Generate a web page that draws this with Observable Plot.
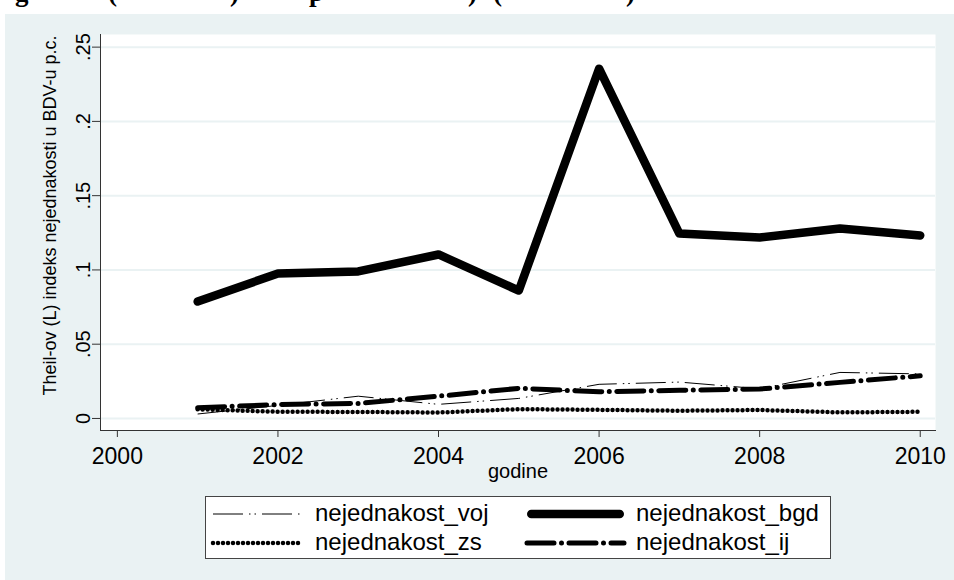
<!DOCTYPE html>
<html><head><meta charset="utf-8">
<script src="https://cdn.jsdelivr.net/npm/d3@7"></script>
<script src="https://cdn.jsdelivr.net/npm/@observablehq/plot@0.6"></script>
<style>
html,body{margin:0;padding:0;background:#fff;}
#page{position:relative;width:954px;height:580px;overflow:hidden;background:#fff;font-family:"Liberation Sans",Arial,sans-serif;}
#bg{position:absolute;left:5px;top:14px;right:0;bottom:0;background:#EAF2F3;}
#title{position:absolute;left:0;top:-23px;height:30px;width:954px;font:bold 27px "Liberation Serif","Times New Roman",serif;color:#000;}
#title span{position:absolute;top:0;line-height:30px;white-space:pre;}
#chart{position:absolute;left:0;top:14px;}
#legend{position:absolute;left:205px;top:496px;}
</style>
</head><body>
<div id="page">
  <div id="bg"></div>
  <div id="title"></div>
  <div id="chart"></div>
  <div id="legend"></div>
</div>
<script>
// ---- data ----
const years = [2001, 2002, 2003, 2004, 2005, 2006, 2007, 2008, 2009, 2010];
const voj = [0.0030, 0.0088, 0.0150, 0.0095, 0.0135, 0.0230, 0.0245, 0.0200, 0.0310, 0.0300];
const bgd = [0.0787, 0.0976, 0.0990, 0.1104, 0.0861, 0.2355, 0.1245, 0.1218, 0.1279, 0.1232];
const zs  = [0.0062, 0.0045, 0.0044, 0.0040, 0.0063, 0.0058, 0.0052, 0.0057, 0.0041, 0.0045];
const ij  = [0.0072, 0.0094, 0.0101, 0.0150, 0.0203, 0.0180, 0.0190, 0.0198, 0.0243, 0.0287];

const xTicks = [2000, 2002, 2004, 2006, 2008, 2010];
const yTicks = [0, 0.05, 0.1, 0.15, 0.2, 0.25];
const yTickLabels = ["0", ".05", ".1", ".15", ".2", ".25"];
const xTitle = "godine";
const yTitle = "Theil-ov (L) indeks nejednakosti u BDV-u p.c.";
const seriesNames = ["nejednakost_voj", "nejednakost_bgd", "nejednakost_zs", "nejednakost_ij"];
const titleFragments = [["g", 15], ["(", 108], [")", 230], ["p", 309], [")", 468], ["(", 493], [")", 626]];

// ---- styles ----
const BG = "#EAF2F3";
const seriesStyle = {
  nejednakost_voj: {stroke: "#000", strokeWidth: 1, strokeDasharray: "30,6,1.5,4,1.5,6", strokeLinecap: "butt"},
  nejednakost_bgd: {stroke: "#000", strokeWidth: 8.5, strokeLinecap: "round"},
  nejednakost_zs:  {stroke: "#000", strokeWidth: 4.5, strokeDasharray: "0,5", strokeLinecap: "round"},
  nejednakost_ij:  {stroke: "#000", strokeWidth: 5, strokeDasharray: "27,7.5,0,7.5", strokeLinecap: "round"}
};
const seriesValues = {nejednakost_voj: voj, nejednakost_bgd: bgd, nejednakost_zs: zs, nejednakost_ij: ij};

// ---- title fragments (cut-off title) ----
const titleDiv = document.getElementById("title");
for (const [t, x] of titleFragments) {
  const s = document.createElement("span");
  s.textContent = t; s.style.left = x + "px";
  titleDiv.appendChild(s);
}

// ---- chart ----
const lineMarks = seriesNames.map(name =>
  Plot.line(years.map((yr, i) => ({year: yr, value: seriesValues[name][i]})),
    {x: "year", y: "value", strokeLinejoin: "round", ...seriesStyle[name]})
);

const chart = Plot.plot({
  width: 954,
  height: 476,
  marginTop: 20,
  marginBottom: 60,
  marginLeft: 100,
  marginRight: 19,
  style: {background: "transparent", fontFamily: "'Liberation Sans', Arial, sans-serif", color: "#000", overflow: "visible"},
  x: {domain: [1999.79, 2010.19]},
  y: {domain: [-0.0081, 0.2585]},
  marks: [
    Plot.frame({fill: "white", stroke: "none"}),
    Plot.gridY(yTicks, {stroke: BG, strokeOpacity: 1, strokeWidth: 2}),
    Plot.frame({anchor: "left", stroke: "#333"}),
    Plot.frame({anchor: "bottom", stroke: "#333"}),
    Plot.axisY({ticks: yTicks, tickSize: 8, tickRotate: -90, stroke: "#333",
      tickFormat: d => yTickLabels[yTicks.indexOf(d)], fontSize: 20, label: null}),
    Plot.axisX({ticks: xTicks, tickSize: 7, tickPadding: 10, stroke: "#333",
      tickFormat: d => String(d), fontSize: 23, label: null}),
    ...lineMarks,
    Plot.text([xTitle], {frameAnchor: "bottom", textAnchor: "middle", dy: 47, lineAnchor: "bottom", fontSize: 20}),
    Plot.text([yTitle], {frameAnchor: "left", textAnchor: "middle", rotate: -90, dx: -45, dy: -17, lineAnchor: "bottom", fontSize: 18})
  ]
});
document.getElementById("chart").appendChild(chart);

// ---- legend ----
const LW = 626, LH = 63;
const leg = d3.select("#legend").append("svg")
  .attr("width", LW).attr("height", LH)
  .style("font-family", "'Liberation Sans', Arial, sans-serif");
leg.append("rect").attr("x", 0.5).attr("y", 0.5).attr("width", LW - 1).attr("height", LH - 1)
  .attr("fill", "white").attr("stroke", "#444");
const colX = [[8, 97, 110], [322, 419, 431]];
const rowY = [[18, 25], [47, 54]];
seriesNames.forEach((name, i) => {
  const c = colX[i % 2], r = rowY[Math.floor(i / 2)];
  const st = seriesStyle[name];
  const inset = st.strokeLinecap === "round" && !st.strokeDasharray ? st.strokeWidth / 2 : 0;
  leg.append("line")
    .attr("x1", c[0] + inset).attr("x2", c[1] - inset).attr("y1", r[0]).attr("y2", r[0])
    .attr("stroke", st.stroke).attr("stroke-width", st.strokeWidth)
    .attr("stroke-dasharray", st.strokeDasharray || null)
    .attr("stroke-linecap", st.strokeLinecap);
  leg.append("text").attr("x", c[2]).attr("y", r[1]).attr("font-size", 24).attr("fill", "#000").text(name);
});
</script>
</body></html>
